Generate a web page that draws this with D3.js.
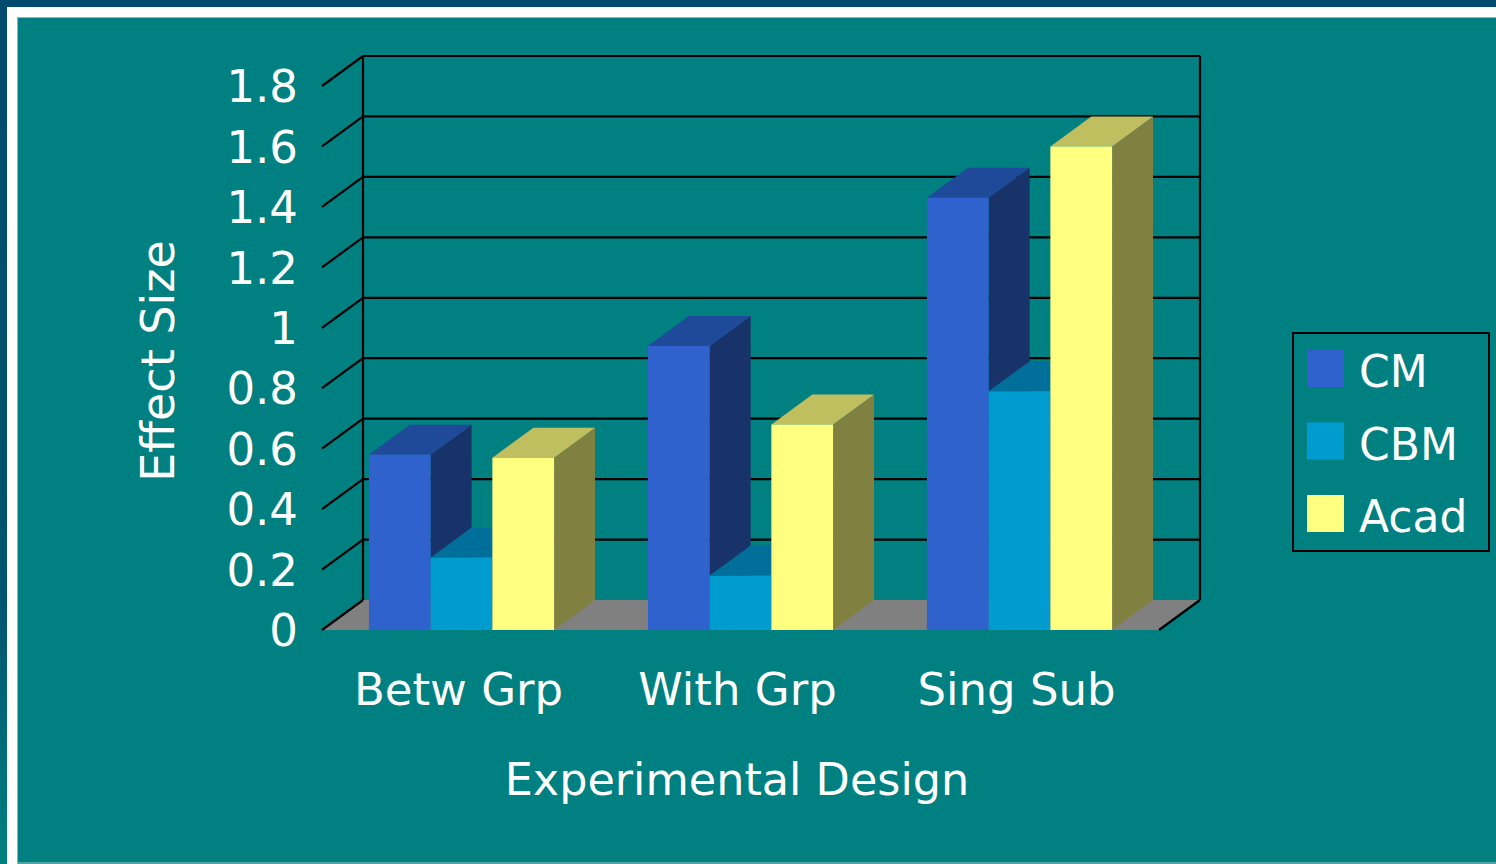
<!DOCTYPE html>
<html><head><meta charset="utf-8">
<script src="https://cdn.jsdelivr.net/npm/d3@7"></script>
<style>html,body{margin:0;padding:0;background:#008080;overflow:hidden}svg{display:block}</style>
</head><body>
<svg id="chart" width="1496" height="864"></svg>
<script>
const categories = ["Betw Grp", "With Grp", "Sing Sub"];
const seriesNames = ["CM", "CBM", "Acad"];
const cmValues   = [0.58, 0.94, 1.43];
const cbmValues  = [0.24, 0.18, 0.79];
const acadValues = [0.57, 0.68, 1.60];
const yTicks = [0, 0.2, 0.4, 0.6, 0.8, 1, 1.2, 1.4, 1.6, 1.8];
const yTickLabels = ["0", "0.2", "0.4", "0.6", "0.8", "1", "1.2", "1.4", "1.6", "1.8"];
const yTitle = "Effect Size";
const xTitle = "Experimental Design";

const seriesValues = [cmValues, cbmValues, acadValues];
const faceColors = {
  CM:   {front: "#2f62cd", top: "#1f4a9a", side: "#18326a"},
  CBM:  {front: "#009ccf", top: "#006f99", side: "#004d6b"},
  Acad: {front: "#ffff80", top: "#bfbf60", side: "#808040"}
};

const svg = d3.select("#chart");
const W = 1496, H = 864;
const font = "'DejaVu Sans', Verdana, sans-serif";

// frame
const defs = svg.append("defs");
const lg = defs.append("linearGradient").attr("id", "leftStrip").attr("x1", 0).attr("y1", 0).attr("x2", 0).attr("y2", 1);
lg.append("stop").attr("offset", "0%").attr("stop-color", "#004a6e");
lg.append("stop").attr("offset", "70%").attr("stop-color", "#00556f");
lg.append("stop").attr("offset", "100%").attr("stop-color", "#008080");
svg.append("rect").attr("x", 0).attr("y", 0).attr("width", W).attr("height", H).attr("fill", "#008080");
svg.append("rect").attr("x", 0).attr("y", 0).attr("width", 7).attr("height", H).attr("fill", "url(#leftStrip)");
svg.append("rect").attr("x", 0).attr("y", 0).attr("width", W).attr("height", 7).attr("fill", "#004a6e");
svg.append("rect").attr("x", 7).attr("y", 7).attr("width", W - 7).attr("height", 10).attr("fill", "#ffffff");
svg.append("rect").attr("x", 7).attr("y", 7).attr("width", 10).attr("height", H - 7).attr("fill", "#ffffff");
svg.append("rect").attr("x", 17).attr("y", 17).attr("width", W - 17).attr("height", 1).attr("fill", "#7fbfbf");
svg.append("rect").attr("x", 17).attr("y", 17).attr("width", 1).attr("height", H - 17).attr("fill", "#7fbfbf");
svg.append("rect").attr("x", 18).attr("y", 862).attr("width", W - 18).attr("height", 2).attr("fill", "#4fa5a5");

// 3D geometry
const DX = 41, DY = -30;
const frontLeft = 322, frontRight = 1159;
const y = d3.scaleLinear().domain([0, 1.8]).range([630, 86]);
const x0 = d3.scaleBand().domain(categories).range([frontLeft, frontRight]).padding(0);
const x1 = d3.scaleBand().domain(seriesNames).range([0, x0.bandwidth()]).paddingInner(0).paddingOuter(0.76);

const g = svg.append("g");

// floor
const y0f = y(0);
g.append("polygon")
  .attr("points", [[frontLeft + DX, y0f + DY], [frontRight + DX, y0f + DY], [frontRight, y0f], [frontLeft, y0f]].map(p => p.join(",")).join(" "))
  .attr("fill", "#808080");

// back wall gridlines
g.selectAll("line.grid").data(yTicks.filter(d => d > 0)).join("line")
  .attr("class", "grid")
  .attr("x1", frontLeft + DX).attr("x2", frontRight + DX)
  .attr("y1", d => y(d) + DY).attr("y2", d => y(d) + DY)
  .attr("stroke", "#000").attr("stroke-width", 2.2);
// walls verticals
g.append("line").attr("x1", frontLeft + DX).attr("x2", frontLeft + DX)
  .attr("y1", y(1.8) + DY).attr("y2", y(0) + DY).attr("stroke", "#000").attr("stroke-width", 2.2);
g.append("line").attr("x1", frontRight + DX).attr("x2", frontRight + DX)
  .attr("y1", y(1.8) + DY).attr("y2", y(0) + DY).attr("stroke", "#000").attr("stroke-width", 2.2);
// diagonal ticks
g.selectAll("line.dtick").data(yTicks).join("line")
  .attr("class", "dtick")
  .attr("x1", frontLeft).attr("y1", d => y(d))
  .attr("x2", frontLeft + DX).attr("y2", d => y(d) + DY)
  .attr("stroke", "#000").attr("stroke-width", 2.2);
g.append("line").attr("x1", frontRight).attr("y1", y(0))
  .attr("x2", frontRight + DX).attr("y2", y(0) + DY)
  .attr("stroke", "#000").attr("stroke-width", 2.2);

// bars
const bars = [];
categories.forEach((c, ci) => {
  seriesNames.forEach((s, si) => {
    bars.push({cat: c, series: s, value: seriesValues[si][ci]});
  });
});
const pts = a => a.map(p => p.join(",")).join(" ");
const bg = g.append("g");
bars.forEach(b => {
  const xl = x0(b.cat) + x1(b.series);
  const xr = xl + x1.bandwidth();
  const yt = y(b.value), yb = y(0);
  const col = faceColors[b.series];
  const bar = bg.append("g");
  bar.append("polygon").attr("points", pts([[xr, yb], [xr, yt], [xr + DX, yt + DY], [xr + DX, yb + DY]])).attr("fill", col.side);
  bar.append("polygon").attr("points", pts([[xl, yt], [xr, yt], [xr + DX, yt + DY], [xl + DX, yt + DY]])).attr("fill", col.top);
  bar.append("rect").attr("x", xl).attr("y", yt).attr("width", xr - xl).attr("height", yb - yt).attr("fill", col.front);
});

// y tick labels
g.selectAll("text.ytl").data(yTicks).join("text")
  .attr("class", "ytl")
  .attr("x", 298).attr("y", d => y(d))
  .attr("dy", "0.36em")
  .attr("text-anchor", "end")
  .attr("fill", "#fff").attr("font-family", font).attr("font-size", 45)
  .text((d, i) => yTickLabels[i]);

// category labels
g.selectAll("text.xtl").data(categories).join("text")
  .attr("class", "xtl")
  .attr("x", d => x0(d) + x0.bandwidth() / 2 - 3).attr("y", 705)
  .attr("text-anchor", "middle")
  .attr("fill", "#fff").attr("font-family", font).attr("font-size", 45)
  .text(d => d);

// axis titles
svg.append("text").attr("x", 737).attr("y", 795).attr("text-anchor", "middle")
  .attr("fill", "#fff").attr("font-family", font).attr("font-size", 44.5).text(xTitle);
svg.append("text").attr("transform", "translate(174,361) rotate(-90)").attr("text-anchor", "middle")
  .attr("fill", "#fff").attr("font-family", font).attr("font-size", 46).text(yTitle);

// legend
const leg = svg.append("g");
leg.append("rect").attr("x", 1293).attr("y", 333).attr("width", 196).attr("height", 218)
  .attr("fill", "none").attr("stroke", "#000").attr("stroke-width", 2);
const legY = d3.scalePoint().domain(seriesNames).range([350, 495]);
seriesNames.forEach(s => {
  leg.append("rect").attr("x", 1307).attr("y", legY(s)).attr("width", 37).attr("height", 37).attr("fill", faceColors[s].front);
  leg.append("text").attr("x", 1359).attr("y", legY(s) + 37).attr("fill", "#fff")
    .attr("font-family", font).attr("font-size", 44).text(s);
});
</script>
</body></html>
